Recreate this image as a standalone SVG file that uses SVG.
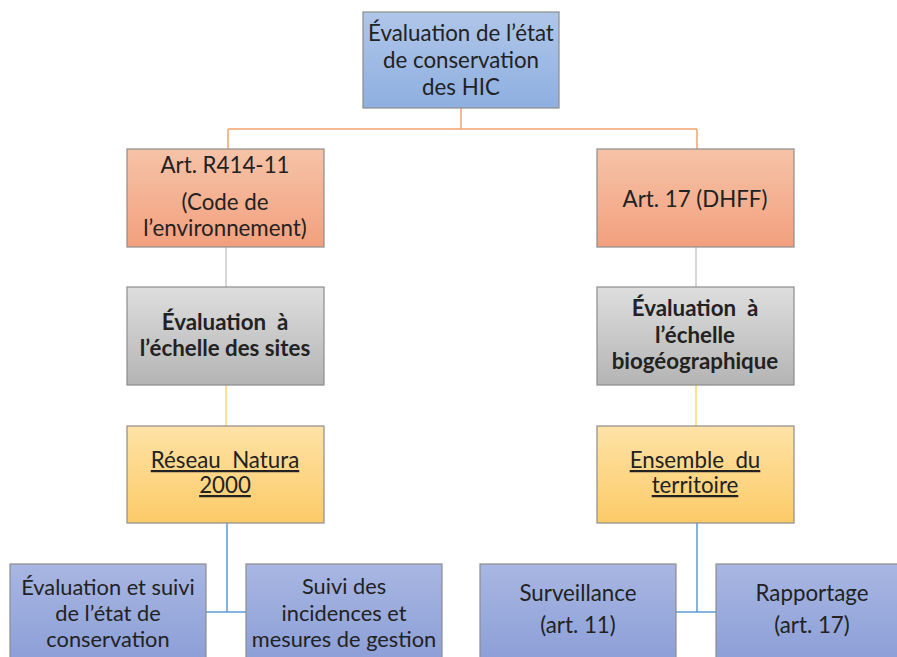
<svg xmlns="http://www.w3.org/2000/svg" width="897" height="657" viewBox="0 0 897 657">
<defs>
<linearGradient id="gBlue" x1="0" y1="0" x2="0" y2="1"><stop offset="0" stop-color="#b0c6e9"/><stop offset="1" stop-color="#8eafe0"/></linearGradient>
<linearGradient id="gOrange" x1="0" y1="0" x2="0" y2="1"><stop offset="0" stop-color="#f6c3a7"/><stop offset="1" stop-color="#f2a07e"/></linearGradient>
<linearGradient id="gGrey" x1="0" y1="0" x2="0" y2="1"><stop offset="0" stop-color="#dedede"/><stop offset="1" stop-color="#b4b4b4"/></linearGradient>
<linearGradient id="gYellow" x1="0" y1="0" x2="0" y2="1"><stop offset="0" stop-color="#fee2a6"/><stop offset="1" stop-color="#fccb68"/></linearGradient>
<linearGradient id="gLav" x1="0" y1="0" x2="0" y2="1"><stop offset="0" stop-color="#a8b6e2"/><stop offset="1" stop-color="#8b9ed6"/></linearGradient>
</defs>
<style>
rect{stroke:#8c8c8c;stroke-width:1.2}
text{font-family:Lato,"Open Sans","Liberation Sans",sans-serif;font-size:22.3px;fill:#222;text-anchor:middle;white-space:pre}
.s{font-size:21.8px}
.b{font-weight:bold}
.u{text-decoration:underline}
.c{fill:none;stroke-width:1.5}
</style>
<rect x="0" y="0" width="897" height="657" fill="#fff" style="stroke:none"/>
<g id="connectors">
<path class="c" stroke="#f4a46e" d="M461 108V129M228 129H697M228 129V149M697 129V149"/>
<path class="c" stroke="#c9c9c9" d="M226 247V287M696 247V287"/>
<path class="c" stroke="#ffd966" d="M226 385V426M696 385V426"/>
<path class="c" stroke="#5b9bd5" d="M227 523V612M206 612H246M697 523V612M676 612H716"/>
</g>
<g id="n-top"><rect x="363" y="12" width="196" height="96" fill="url(#gBlue)"/>
<text x="461" y="41">Évaluation de l’état</text><text x="461" y="68">de conservation</text><text x="461" y="95">des HIC</text></g>
<g id="n-r414"><rect x="127" y="149" width="197" height="98" fill="url(#gOrange)"/>
<text x="225" y="173">Art. R414-11</text><text x="225" y="210">(Code de</text><text x="225" y="236">l’environnement)</text></g>
<g id="n-art17"><rect x="597" y="149" width="197" height="98" fill="url(#gOrange)"/>
<text x="695" y="207">Art. 17 (DHFF)</text></g>
<g id="n-sites"><rect x="127" y="287" width="197" height="98" fill="url(#gGrey)"/>
<text class="b" x="225" y="330">Évaluation  à</text><text class="b" x="225" y="356">l’échelle des sites</text></g>
<g id="n-bio"><rect x="597" y="287" width="197" height="98" fill="url(#gGrey)"/>
<text class="b" x="695" y="316">Évaluation  à</text><text class="b" x="695" y="343">l’échelle</text><text class="b" x="695" y="369">biogéographique</text></g>
<g id="n-natura"><rect x="127" y="426" width="197" height="97" fill="url(#gYellow)"/>
<text class="u" x="225" y="468">Réseau  Natura</text><text class="u" x="225" y="493">2000</text></g>
<g id="n-territoire"><rect x="597" y="426" width="197" height="97" fill="url(#gYellow)"/>
<text class="u" x="695" y="468">Ensemble  du</text><text class="u" x="695" y="493">territoire</text></g>
<g id="n-suivi-etat"><rect x="10" y="564" width="196" height="100" fill="url(#gLav)"/>
<text class="s" x="108" y="595">Évaluation et suivi</text><text class="s" x="108" y="621">de l’état de</text><text class="s" x="108" y="647">conservation</text></g>
<g id="n-incidences"><rect x="246" y="564" width="196" height="100" fill="url(#gLav)"/>
<text class="s" x="344" y="594">Suivi des</text><text class="s" x="344" y="621">incidences et</text><text class="s" x="344" y="647">mesures de gestion</text></g>
<g id="n-surveillance"><rect x="480" y="564" width="196" height="100" fill="url(#gLav)"/>
<text x="578" y="601">Surveillance</text><text x="578" y="633">(art. 11)</text></g>
<g id="n-rapportage"><rect x="716" y="564" width="196" height="100" fill="url(#gLav)"/>
<text x="812" y="601">Rapportage</text><text x="812" y="633">(art. 17)</text></g>
</svg>
